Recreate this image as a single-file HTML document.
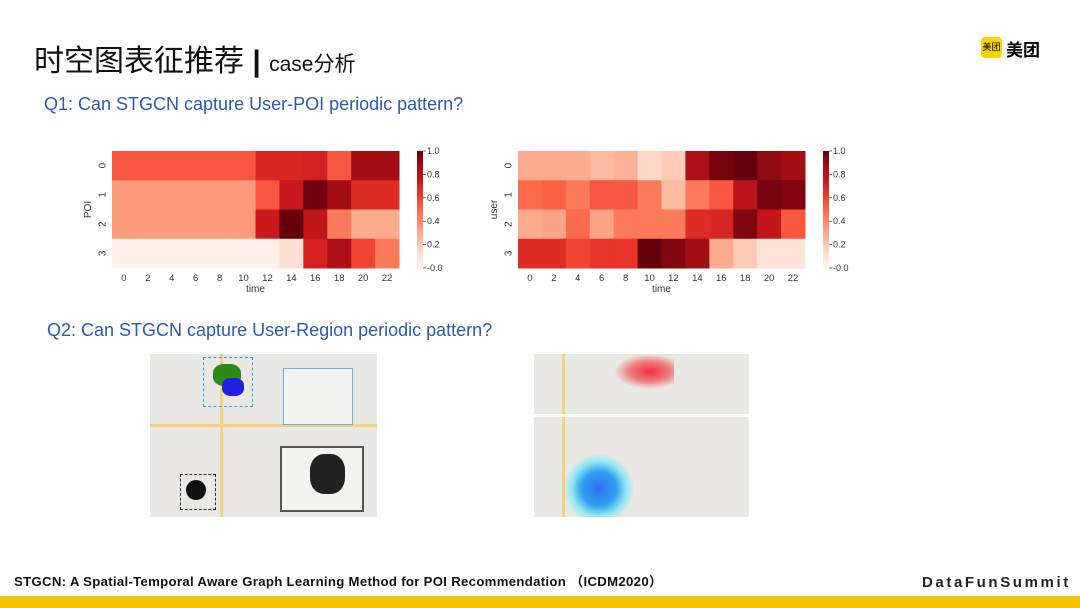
<!DOCTYPE html>
<html><head><meta charset="utf-8">
<style>
body{margin:0;width:1080px;height:608px;overflow:hidden;background:#fff;font-family:"Liberation Sans","Noto Sans CJK SC",sans-serif;position:relative}
.abs{position:absolute}
</style></head>
<body>
<div class="abs" style="left:34px;top:36px;font-size:30px;color:#111;white-space:nowrap">时空图表征推荐 <span style="font-weight:bold">|</span> <span style="font-size:21px">case分析</span></div>
<div class="abs" style="left:981px;top:37px;width:21px;height:21px;background:#ffd100;border-radius:4px;font-size:9px;line-height:21px;text-align:center">美团</div>
<div class="abs" style="left:1006px;top:36px;font-size:17px;font-weight:bold">美团</div>
<div class="abs" style="left:44px;top:94px;font-size:18px;color:#2a5caa">Q1: Can STGCN capture User-POI periodic pattern?</div>
<div class="abs" style="left:47px;top:320px;font-size:18px;color:#2a5caa">Q2: Can STGCN capture User-Region periodic pattern?</div>
<svg class="abs" style="left:0;top:0" width="1080" height="608" id="hm"></svg>

<div class="abs" style="left:150px;top:354px;width:227px;height:163px;background:#e9e8e4;overflow:hidden">
 <div class="abs" style="left:70px;top:0;width:3px;height:163px;background:#f3d27a"></div>
 <div class="abs" style="left:0;top:70px;width:227px;height:3px;background:#f3d27a"></div>
 <div class="abs" style="left:53px;top:3px;width:48px;height:48px;border:1px dashed #3aa0e0"></div>
 <div class="abs" style="left:133px;top:14px;width:68px;height:55px;border:1px solid #6ab0e0;background:#f3f3f1"></div>
 <div class="abs" style="left:63px;top:10px;width:28px;height:22px;background:#2a8a1a;border-radius:40%"></div>
 <div class="abs" style="left:72px;top:24px;width:22px;height:18px;background:#2020e0;border-radius:40%"></div>
 <div class="abs" style="left:130px;top:92px;width:80px;height:62px;border:2px solid #555;background:#f3f3f1"></div>
 <div class="abs" style="left:160px;top:100px;width:35px;height:40px;background:#222;border-radius:40%"></div>
 <div class="abs" style="left:30px;top:120px;width:34px;height:34px;border:1px dashed #333"></div>
 <div class="abs" style="left:36px;top:126px;width:20px;height:20px;background:#111;border-radius:50%"></div>
</div>
<div class="abs" style="left:534px;top:354px;width:215px;height:163px;background:#e9e8e4;overflow:hidden">
 <div class="abs" style="left:28px;top:0;width:3px;height:163px;background:#f3d27a"></div>
 <div class="abs" style="left:0;top:60px;width:215px;height:3px;background:#fff"></div>
 <div class="abs" style="left:80px;top:0;width:60px;height:35px;background:radial-gradient(ellipse at 60% 50%,#f03040 0%,rgba(240,80,80,.7) 40%,rgba(240,200,120,0) 70%)"></div>
 <div class="abs" style="left:30px;top:100px;width:70px;height:63px;background:radial-gradient(ellipse at 50% 55%,#3070f0 0%,#30a0f0 35%,rgba(80,230,250,.6) 55%,rgba(120,240,250,0) 72%)"></div>
</div>

<div class="abs" style="left:14px;top:571px;font-size:13.2px;font-weight:bold;color:#111;white-space:nowrap;letter-spacing:0.3px">STGCN: A Spatial-Temporal Aware Graph Learning Method for POI Recommendation （ICDM2020）</div>
<div class="abs" style="left:922px;top:574px;font-size:15px;font-weight:bold;letter-spacing:2.6px;color:#222;white-space:nowrap">DataFunSummit</div>
<div class="abs" style="left:0;top:596px;width:1080px;height:12px;background:#f5c400"></div>

<script>
const timeLabels=[0,2,4,6,8,10,12,14,16,18,20,22];
const rowLabels=[0,1,2,3];
const poiValues=[
[0.55,0.55,0.55,0.55,0.55,0.55,0.7,0.7,0.72,0.55,0.88,0.88],
[0.35,0.35,0.35,0.35,0.35,0.35,0.55,0.75,0.98,0.88,0.68,0.68],
[0.35,0.35,0.35,0.35,0.35,0.35,0.75,1.0,0.78,0.45,0.3,0.3],
[0.03,0.03,0.03,0.03,0.03,0.03,0.03,0.12,0.72,0.85,0.6,0.45]];
const userValues=[
[0.3,0.3,0.3,0.25,0.28,0.15,0.2,0.85,0.97,1.0,0.92,0.88],
[0.5,0.52,0.45,0.55,0.55,0.45,0.25,0.45,0.55,0.8,0.97,0.95],
[0.3,0.32,0.5,0.32,0.45,0.45,0.45,0.68,0.7,0.95,0.78,0.55],
[0.68,0.68,0.6,0.65,0.65,1.0,0.95,0.88,0.3,0.2,0.1,0.1]];
const cbTicks=[0,0.2,0.4,0.6,0.8,1.0];
const stops=["#fff5f0","#fee0d2","#fcbba1","#fc9272","#fb6a4a","#ef3b2c","#cb181d","#a50f15","#67000d"];
function hex(c){return [1,3,5].map(i=>parseInt(c.substr(i,2),16));}
function reds(v){v=Math.max(0,Math.min(1,v));const t=v*8,i=Math.min(7,Math.floor(t)),f=t-i;const a=hex(stops[i]),b=hex(stops[i+1]);return `rgb(${a.map((x,k)=>Math.round(x+(b[k]-x)*f)).join(',')})`;}
const NS="http://www.w3.org/2000/svg",svg=document.getElementById('hm');
function el(t,a,txt){const e=document.createElementNS(NS,t);for(const k in a)e.setAttribute(k,a[k]);if(txt!==undefined)e.textContent=txt;svg.appendChild(e);return e;}
function heat(x0,y0,w,h,vals,ylab,cbx,name){
 const cw=w/timeLabels.length,ch=h/rowLabels.length;
 const xs=i=>x0+i*cw, ys=j=>y0+j*ch;
 vals.forEach((row,j)=>row.forEach((v,i)=>{
  const r=el('rect',{x:xs(i),y:ys(j),width:cw+0.5,height:ch+0.5,fill:reds(v)});
  
  
 }));
 timeLabels.forEach((t,i)=>{const e=el('text',{x:xs(i)+cw/2,y:y0+h+13,'font-size':9.5,'text-anchor':'middle',fill:'#333'},t);
  });
 rowLabels.forEach((r,j)=>{const cy=ys(j)+ch/2;const e=el('text',{x:x0-9,y:cy,'font-size':10,'text-anchor':'middle',fill:'#333',transform:`rotate(-90 ${x0-9} ${cy})`,'dominant-baseline':'central'},r);
  });
 const xt=el('text',{x:x0+w/2,y:y0+h+24,'font-size':10,'text-anchor':'middle',fill:'#333'},'time');
 
 const yx=x0-21,yy=y0+h/2;
 const yt=el('text',{x:yx,y:yy,'font-size':10,'text-anchor':'middle',fill:'#333',transform:`rotate(-90 ${yx} ${yy})`},ylab);
 
 const n=60;for(let k=0;k<n;k++){el('rect',{x:cbx,y:y0+h-(k+1)*h/n,width:6,height:h/n+0.5,fill:reds((k+0.5)/n)});}
 cbTicks.forEach(t=>{const y=y0+h-t*h;el('line',{x1:cbx+6,x2:cbx+9,y1:y,y2:y,stroke:'#333','stroke-width':0.7});
  const e=el('text',{x:cbx+10,y:y+3,'font-size':9,fill:'#333'},(t===0?'-':'')+t.toFixed(1));
  });
}
heat(112,151,287,117,poiValues,'POI',417,'poi-heatmap');
heat(518,151,287,117,userValues,'user',823,'user-heatmap');
</script>
</body></html>
